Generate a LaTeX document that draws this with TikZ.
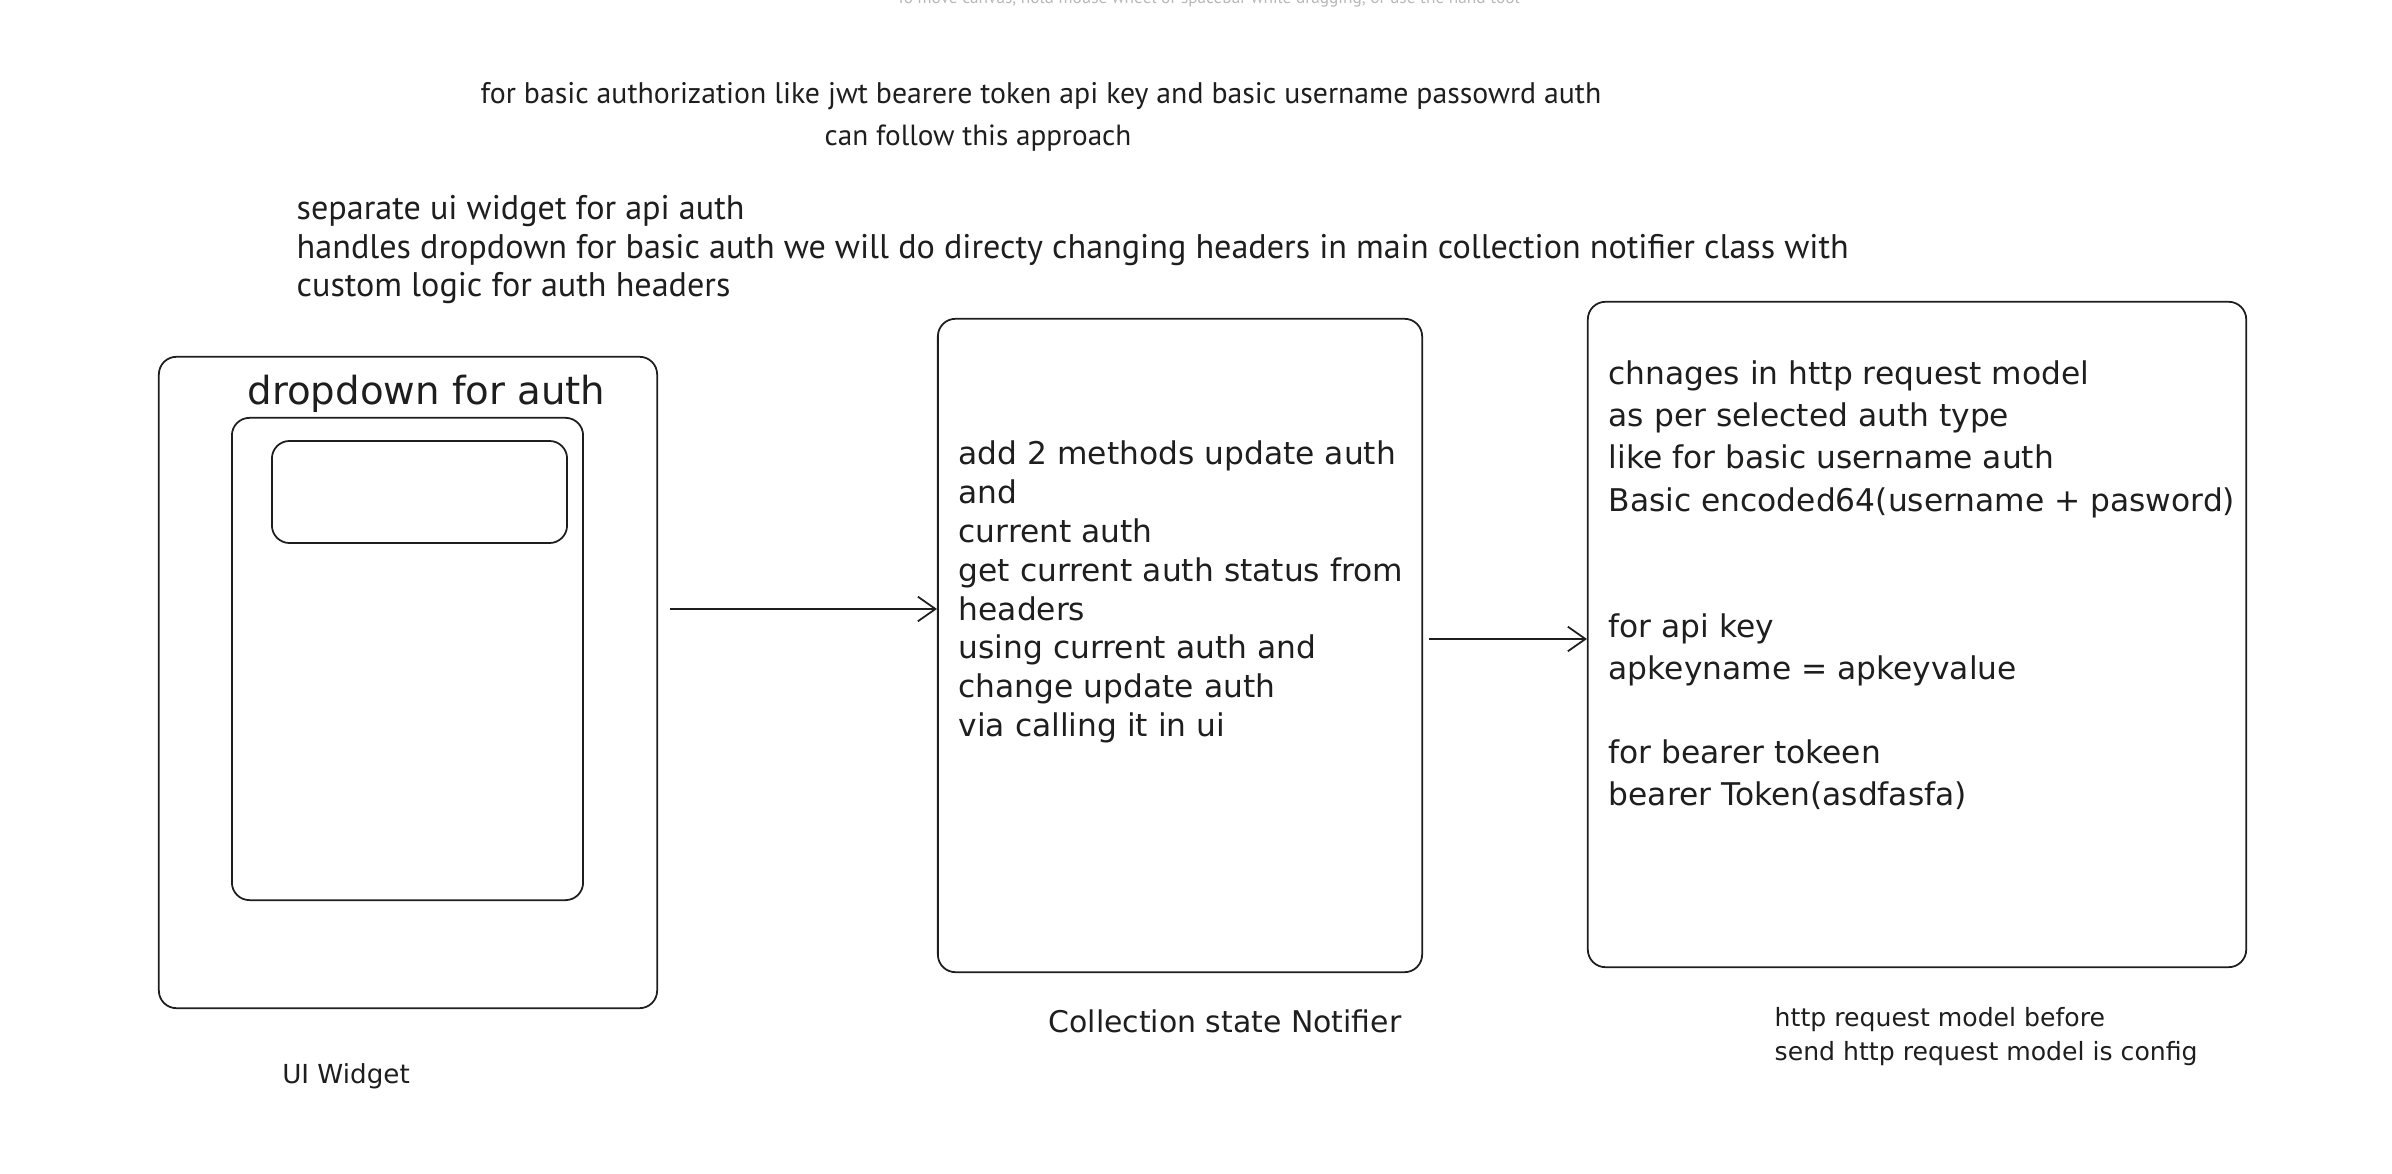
\documentclass[tikz,border=0pt]{standalone}
\usepackage{fontspec}
\setmainfont{DejaVu Sans}
\newfontfamily\notefont{PT Sans}
\usepackage{tikz}
\usetikzlibrary{positioning, arrows.meta}
\definecolor{ink}{HTML}{1E1E1E}
\definecolor{hint}{HTML}{B8B8B8}
\tikzset{box/.style  = {draw=ink, line width=0.5pt, rounded corners=5pt, inner sep=0pt}}
\tikzset{body/.style = {text=ink, align=left, inner sep=0pt}}
\tikzset{arr/.style  = {draw=ink, line width=0.5pt, -{Straight Barb[length=5pt, width=7pt]}}}

\begin{document}
\begin{tikzpicture}[x=0.01cm, y=-0.01cm]
            \clip (0,0) rectangle (2392,1174);

            \node [text=hint, inner sep=0pt, font=\notefont\fontsize{4.92}{5.5}\selectfont] (hint) at (1208,-1)
                {To move canvas, hold mouse wheel or spacebar while dragging, or use the hand tool};

            \node [body, anchor=west, font=\notefont\fontsize{8.47}{9}\selectfont] (scope1) at (480,96)
                {for basic authorization like jwt bearere token api key and basic username passowrd auth};
            \node [body, anchor=west, font=\notefont\fontsize{8.3}{9}\selectfont] (scope2) at (824,138)
                {can follow this approach};
            \node [body, anchor=west, font=\notefont\fontsize{9.71}{10.95}\selectfont] (plan) at (296,250)
                {separate ui widget for api auth\\
                 handles dropdown for basic auth we will do directy changing headers in main collection notifier class with\\
                 custom logic for auth headers};

            \node [box, minimum width=4.98cm, minimum height=6.51cm] (widget) at (408,682.5)   {};
            \node [box, minimum width=3.51cm, minimum height=4.82cm] (panel)  at (407.5,659)   {};
            \node [box, minimum width=2.95cm, minimum height=1.02cm] (field)  at (419.5,492)   {};
            \node [body, font=\fontsize{11}{13}\selectfont]          (title)  at (426.5,394)   {dropdown for auth};

            \node [box, minimum width=4.84cm, minimum height=6.53cm] (notifier) at (1180,645.5) {};
            \node [body, anchor=west, font=\fontsize{8.9}{11.05}\selectfont] (methods) at (958,592)
                {add 2 methods update auth\\
                 and\\
                 current auth\\
                 get current auth status from\\
                 headers\\
                 using current auth and\\
                 change update auth\\
                 via calling it in ui};

            \node [box, minimum width=6.58cm, minimum height=6.65cm] (model) at (1917,634.5) {};
            \node [body, anchor=west, font=\fontsize{8.9}{11.98}\selectfont] (changes) at (1608,585.5)
                {chnages in http request model\\
                 as per selected auth type\\
                 like for basic username auth\\
                 Basic encoded64(username + pasword)\\
                 ~\\
                 ~\\
                 for api key\\
                 apkeyname = apkeyvalue\\
                 ~\\
                 for bearer tokeen\\
                 bearer Token(asdfasfa)};

            \node [body, font=\fontsize{7.45}{9}\selectfont]  (widgetlabel)   at (346,1076)  {UI Widget};
            \node [body, font=\fontsize{8.5}{10}\selectfont]  (notifierlabel) at (1225,1021) {Collection state Notifier};
            \node [body, anchor=west, font=\fontsize{7.15}{9.67}\selectfont] (modellabel) at (1774,1037)
                {http request model before\\send http request model is config};

            \coordinate (a1) at (670,609);
            \coordinate (a2) at (1429,639);
            \draw [arr] (a1) -- (a1 -| notifier.west);
            \draw [arr] (a2) -- (a2 -| model.west);
        \end{tikzpicture}
\end{document}
